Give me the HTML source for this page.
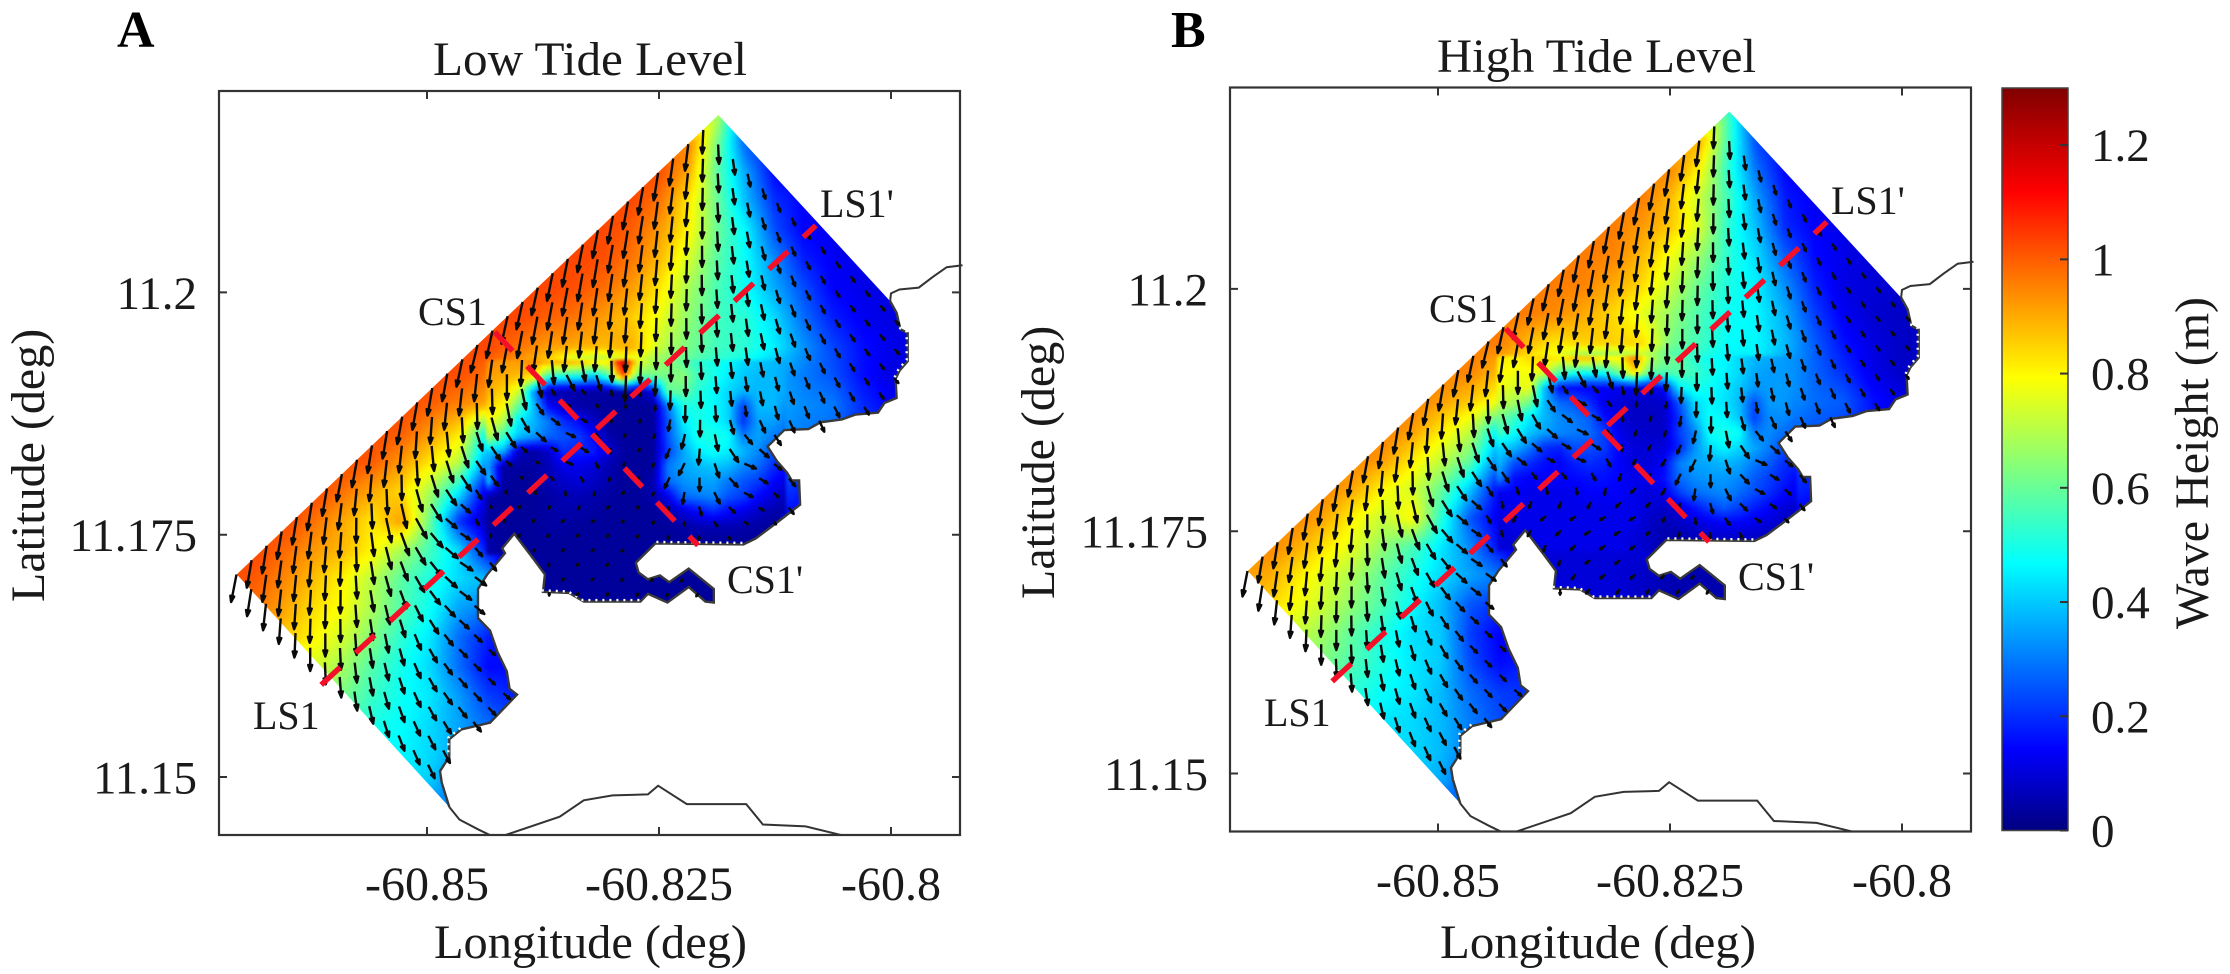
<!DOCTYPE html>
<html>
<head>
<meta charset="utf-8">
<title>Wave Height at Low and High Tide</title>
<style>
html,body{margin:0;padding:0;background:#fff}
svg{display:block}
text{font-family:"Liberation Serif",serif;fill:#1a1a1a}
</style>
</head>
<body>
<svg id="figure" xmlns="http://www.w3.org/2000/svg" width="2230" height="974" viewBox="0 0 2230 974">
<defs>
<linearGradient id="jet-gradient" x1="0" y1="1" x2="0" y2="0">
<stop offset="0" stop-color="#000080"/><stop offset="0.11" stop-color="#0000ff"/><stop offset="0.36" stop-color="#00ffff"/><stop offset="0.61" stop-color="#ffff00"/><stop offset="0.86" stop-color="#ff0000"/><stop offset="1" stop-color="#800000"/>
</linearGradient>
</defs>
<g id="panel-a"></g>
<g id="panel-b"></g>
<g id="colorbar"></g>

<text x="117" y="47" font-size="52" font-weight="bold" style="fill:#000">A</text>
<text x="1171" y="47" font-size="52" font-weight="bold" style="fill:#000">B</text>
<text x="433" y="75" font-size="48" textLength="314" lengthAdjust="spacingAndGlyphs">Low Tide Level</text>
<text x="1437" y="72" font-size="48" textLength="319" lengthAdjust="spacingAndGlyphs">High Tide Level</text>
<text x="434" y="958" font-size="48" textLength="313" lengthAdjust="spacingAndGlyphs">Longitude (deg)</text>
<text x="1440" y="958" font-size="48" textLength="316" lengthAdjust="spacingAndGlyphs">Longitude (deg)</text>
<text transform="translate(44,602) rotate(-90)" font-size="48">Latitude (deg)</text>
<text transform="translate(1054,599) rotate(-90)" font-size="48">Latitude (deg)</text>
<text transform="translate(2208,629) rotate(-90)" font-size="48">Wave Height (m)</text>

<text x="418" y="325" font-size="40">CS1</text>
<text x="253" y="729" font-size="40">LS1</text>
<text x="820" y="217" font-size="40">LS1'</text>
<text x="727" y="593" font-size="40">CS1'</text>
<text x="1429" y="322" font-size="40">CS1</text>
<text x="1264" y="726" font-size="40">LS1</text>
<text x="1831" y="214" font-size="40">LS1'</text>
<text x="1738" y="590" font-size="40">CS1'</text>
</svg>

<script>
// Axis tick values
const lonTicks = [-60.85, -60.825, -60.8];
const lonTickLabels = ['-60.85', '-60.825', '-60.8'];
const latTicks = [11.2, 11.175, 11.15];
const latTickLabels = ['11.2', '11.175', '11.15'];
const colorTicks = [0, 0.2, 0.4, 0.6, 0.8, 1, 1.2];
const colorTickLabels = ['0', '0.2', '0.4', '0.6', '0.8', '1', '1.2'];

// Model domain outline: milli-degrees east of -60.85 and north of 11.15
const domainLon = [-20.5,31.4,49.9,50.6,51.0,51.8,51.8,50.9,50.5,50.6,49.3,48.6,46.2,44.7,42.4,41.1,38.5,36.7,37.7,38.8,39.3,40.1,40.2,37.5,35.4,34.1,24.6,22.5,22.8,23.8,25.1,26.1,28.2,30.9,30.9,30.0,28.2,25.9,23.8,23.0,16.9,15.3,12.5,12.7,11.4,9.4,8.1,8.4,6.5,5.5,5.5,6.8,7.6,8.6,8.9,9.7,8.1,6.8,3.7,2.4,2.4,1.4,1.6,2.4];
const domainLat = [20.9,68.3,49.1,47.9,46.2,45.8,42.9,41.9,41.1,39.1,38.6,37.6,37.4,36.9,36.6,35.9,35.8,34.1,32.6,31.4,30.6,30.6,28.1,26.1,24.6,24.0,24.1,22.1,21.1,20.4,20.8,20.1,21.5,19.4,18.0,18.1,19.6,18.0,18.9,18.1,18.1,19.0,19.1,20.9,22.6,25.1,23.6,23.1,20.9,19.4,16.4,15.1,12.9,10.9,9.1,8.5,6.9,5.6,4.9,3.9,2.1,0.6,-0.6,-3.1];

// Land outlines outside the domain
const landEastLon = [49.9,50.0,50.9,53.0,54.5,56.0,57.7];
const landEastLat = [49.1,49.9,50.3,50.5,51.6,52.6,52.8];
const landSouthWestLon = [2.4,3.5,5.5,6.8];
const landSouthWestLat = [-3.1,-4.4,-5.4,-6.0];
const landSouthLon = [8.4,14.3,16.9,20.0,23.8,24.9,28.0,34.4,36.2,40.8,44.7];
const landSouthLat = [-6.0,-4.1,-2.4,-1.9,-1.8,-0.9,-2.8,-2.8,-4.9,-5.1,-6.0];

// Stretches of shoreline showing unwetted white cells (start and end index into the domain outline)
const dryShoreStart = [4, 25, 39, 58];
const dryShoreEnd = [8, 26, 42, 60];

// Transects
const transectLS1Lon = [-11.4, 41.9];
const transectLS1Lat = [9.5, 56.9];
const transectCS1Lon = [7.3, 29.2];
const transectCS1Lat = [45.9, 23.9];

// Wave height in centimetres, rows north to south, columns west to east
const heightLowCm = [
[0,0,0,0,0,0,0,0,0,0,0,0,0,0,103,103,100,70,25,14],
[0,0,0,0,0,0,0,0,0,0,0,0,0,0,103,102,96,62,25,14],
[0,0,0,0,0,0,0,0,0,0,0,0,0,103,103,102,90,58,35,14,13],
[0,0,0,0,0,0,0,0,0,0,0,0,103,103,103,97,82,60,38,20,14,13],
[0,0,0,0,0,0,0,0,0,0,0,103,103,103,100,92,80,60,46,24,14,13],
[0,0,0,0,0,0,0,0,0,0,103,103,103,102,97,88,74,58,47,32,18,13,12],
[0,0,0,0,0,0,0,0,0,103,103,103,102,98,92,82,68,56,48,36,24,14,12,11],
[0,0,0,0,0,0,0,0,103,103,103,100,97,92,86,77,65,55,52,42,28,18,13,11,11],
[0,0,0,0,0,0,0,103,103,103,98,92,90,88,90,72,62,55,52,45,33,23,16,12,11],
[0,0,0,0,0,0,103,103,102,97,88,80,50,45,60,58,55,50,45,36,30,25,16,11,10],
[0,0,0,0,0,103,103,100,95,90,65,10,8,8,8,20,45,45,25,36,32,30,20,14,12],
[0,0,0,0,103,103,100,92,82,45,35,25,12,5,5,25,40,42,25,34,30,28,20,20],
[0,0,0,103,103,100,92,82,70,30,5,5,15,8,5,10,35,35,30,28,25,20,15],
[0,0,103,103,97,90,84,68,45,8,5,5,5,5,5,15,25,30,30,22,18,15],
[0,103,103,97,90,82,92,60,20,5,3,3,3,3,3,5,10,15,15,15,12],
[103,103,98,92,88,80,68,55,42,15,3,3,3,3,3,5,5,8,10,8],
[103,100,94,87,80,70,58,50,42,38,10,3,3,3,3,3,3,3,3],
[97,97,90,83,78,68,57,48,35,30,5,4,3,3,3,3,3,3,3],
[0,92,86,80,73,63,52,44,28,18,14],
[0,0,80,74,67,57,49,42,28,15,15,15],
[0,0,0,70,62,54,48,44,34,22,18,15],
[0,0,0,0,58,50,47,42,35,28,22],
[0,0,0,0,0,48,46,42,35,28],
[0,0,0,0,0,0,45,40,28,25],
[0,0,0,0,0,0,0,35,25,20]
];
const heightHighCm = [
[0,0,0,0,0,0,0,0,0,0,0,0,0,0,96,96,92,55,18,12],
[0,0,0,0,0,0,0,0,0,0,0,0,0,0,96,96,90,55,22,13],
[0,0,0,0,0,0,0,0,0,0,0,0,0,96,96,95,80,52,28,14,12],
[0,0,0,0,0,0,0,0,0,0,0,0,96,96,96,88,72,55,34,17,13,12],
[0,0,0,0,0,0,0,0,0,0,0,96,96,96,92,86,74,52,38,19,14,12],
[0,0,0,0,0,0,0,0,0,0,96,96,96,95,88,78,66,52,42,26,15,12,10],
[0,0,0,0,0,0,0,0,0,96,96,96,95,90,84,72,60,50,45,32,18,11,10,9],
[0,0,0,0,0,0,0,0,96,96,96,94,90,84,76,66,56,48,46,36,22,13,9,8,8],
[0,0,0,0,0,0,0,96,96,96,88,82,85,85,84,62,55,47,46,38,26,16,11,8,7],
[0,0,0,0,0,0,96,96,95,88,78,70,40,40,55,50,48,44,44,35,27,20,12,8,7],
[0,0,0,0,0,96,96,92,86,78,60,20,18,14,10,22,40,42,42,34,28,26,16,12,10],
[0,0,0,0,96,96,92,82,72,45,32,28,20,14,8,22,35,38,22,28,25,22,18],
[0,0,0,96,96,92,82,72,60,30,20,20,14,12,10,12,32,32,28,25,22,18,14],
[0,0,95,95,90,80,74,60,40,14,12,12,12,12,12,16,24,28,28,20,17,14],
[0,95,95,90,80,72,80,52,25,12,12,12,12,12,10,10,12,15,15,14,12],
[95,95,90,82,75,65,56,44,32,15,10,10,10,10,10,8,8,8,8,8],
[92,90,82,75,68,58,50,42,35,30,12,10,10,10,8,6,5,5,5],
[88,85,78,72,64,56,47,38,25,20,10,10,10,10,8,5,5,5,5],
[0,80,72,66,58,50,43,40,22,14,14],
[0,0,68,62,56,50,44,40,24,15,18,18],
[0,0,0,58,52,47,44,38,28,22,20,18],
[0,0,0,0,48,44,42,38,30,24,20],
[0,0,0,0,0,44,42,38,30,24],
[0,0,0,0,0,0,42,36,25,20],
[0,0,0,0,0,0,0,28,22,18]
];

// Finer reading of the harbour basin (cm)
const harbourLowCm = [
[95,92,92,95,90,92,90,85,82,120,78,68,65,58,52,50,47,42,40,38,35],
[92,90,88,85,55,50,48,40,55,102,60,62,62,65,55,50,45,40,38,38,35],
[90,85,75,35,5,5,5,4,4,4,4,12,60,60,52,47,42,38,38,38,35],
[85,80,60,40,15,8,4,4,3,3,3,3,30,50,50,47,42,22,38,38,32],
[78,70,45,38,30,20,15,8,3,3,3,3,25,45,50,47,42,20,35,35,30],
[72,55,40,35,28,25,22,15,5,3,3,3,25,40,50,50,48,30,35,30,25],
[40,38,8,4,8,20,18,18,10,4,3,3,22,35,45,48,45,38,32,25,20],
[35,4,4,4,6,12,12,10,6,3,3,3,30,35,38,40,38,32,28,20,15],
[40,4,3,3,6,8,10,8,5,3,3,5,28,33,35,35,30,25,22,15,10],
[4,3,3,3,4,6,6,5,4,3,3,5,12,28,30,32,25,22,15,10,6],
[4,3,3,3,4,5,5,4,3,3,3,3,5,10,15,20,15,12,8,5,4],
[3,3,3,3,4,4,3,3,3,3,3,3,3,4,6,6,6,5,4,3,3],
[5,3,3,3,3,3,3,3,3,3,3,3,3,3,3,3,3,3,3,3,3],
[5,3,3,3,3,3,3,3,3,3,3,3,3,3,3,3,3,3,3,3,3]
];
const harbourHighCm = [
[82,80,84,85,82,88,88,82,80,96,72,62,60,52,48,46,42,38,36,34,32],
[80,78,78,75,58,50,48,48,62,84,60,58,58,55,50,46,42,36,34,34,32],
[78,74,78,40,15,15,14,14,12,12,10,15,45,50,48,44,40,34,34,34,32],
[72,68,62,38,28,25,20,12,10,8,8,8,25,42,46,44,38,24,34,34,30],
[62,55,45,38,32,30,26,16,10,8,8,8,20,38,48,46,40,22,32,32,28],
[55,48,40,35,32,30,28,22,12,9,8,8,22,30,48,50,48,30,32,28,25],
[42,38,30,20,18,24,24,22,14,10,10,10,18,32,42,46,42,36,30,24,22],
[38,25,20,16,14,18,20,18,14,10,10,14,30,35,36,38,36,30,26,20,18],
[32,16,14,14,14,15,16,16,14,12,12,16,28,32,34,34,32,26,22,18,14],
[12,14,12,12,12,12,14,14,14,12,10,12,22,28,30,32,28,24,20,15,12],
[12,12,12,12,12,12,12,12,12,12,10,8,10,16,22,26,22,18,14,10,8],
[10,12,12,12,12,12,12,12,12,12,8,6,8,10,12,14,14,12,10,8,6],
[10,10,12,12,12,12,12,12,12,10,8,5,5,6,8,8,8,8,7,6,5],
[10,10,12,12,12,12,12,12,12,10,8,5,5,6,8,8,8,8,7,6,5]
];

// Wave direction in degrees from due south (positive toward east), on a coarser grid
const directionDeg = [
[-12,-12,-12,-12,-12,-12,-12,-12,-8,12,30,40,40],
[-12,-12,-12,-12,-12,-12,-12,-12,-6,12,30,40,40],
[-12,-12,-12,-12,-12,-12,-12,-9,-3,10,28,40,40],
[-14,-14,-14,-14,-14,-14,-10,-6,-1,8,24,38,45],
[-15,-15,-15,-15,-15,-10,-6,-2,2,8,22,35,50],
[-12,-12,-12,-12,-4,15,70,-10,0,8,20,30,40],
[-12,-12,-12,-4,25,60,70,-40,-25,70,30,30,30],
[-10,-10,-5,20,60,-50,-60,-60,15,60,30,30,30],
[-12,-6,-1,22,55,50,-50,-50,-45,-45,0,0,0],
[-5,-3,2,15,45,50,0,0,0,0,0,0,0],
[0,3,6,20,40,50,0,0,0,0,0,0,0],
[5,10,15,22,30,40,0,0,0,0,0,0,0],
[10,15,20,25,28,30,0,0,0,0,0,0,0]
];

const SVGNS = 'http://www.w3.org/2000/svg';
const LON_ORIGIN = -60.85, LAT_ORIGIN = 11.15;
const PX_PER_MILLI_X = 9.28, PX_PER_MILLI_Y = 9.692;
const GRID_LON0 = -21.3, GRID_DLON = 3.094, GRID_LAT0 = 68.4, GRID_DLAT = 3.0;
const FINE_LON0 = 6.57, FINE_DLON = 1.616, FINE_LAT0 = 42.92, FINE_DLAT = 1.548;

function jet(t) {
  t = Math.max(0, Math.min(1, t));
  const r = t < 0.36 ? 0 : t < 0.61 ? (t - 0.36) / 0.25 : t < 0.86 ? 1 : 1 - (t - 0.86) / 0.14 * 0.5;
  const g = t < 0.11 ? 0 : t < 0.36 ? (t - 0.11) / 0.25 : t < 0.61 ? 1 : t < 0.86 ? 1 - (t - 0.61) / 0.25 : 0;
  const b = t < 0.11 ? 0.5 + t / 0.11 * 0.5 : t < 0.36 ? 1 : t < 0.61 ? 1 - (t - 0.36) / 0.25 : 0;
  return 'rgb(' + Math.round(r * 255) + ',' + Math.round(g * 255) + ',' + Math.round(b * 255) + ')';
}

function cellValue(grid, r, c) {
  return (grid[r] && grid[r][c]) || 0;
}
function bilinear(grid, rowF, colF) {
  const r = Math.floor(rowF), c = Math.floor(colF);
  const fr = rowF - r, fc = colF - c;
  return cellValue(grid, r, c) * (1 - fr) * (1 - fc) + cellValue(grid, r, c + 1) * (1 - fr) * fc +
         cellValue(grid, r + 1, c) * fr * (1 - fc) + cellValue(grid, r + 1, c + 1) * fr * fc;
}
function heightAt(grid, fine, lonM, latM) {
  const fineRow = (FINE_LAT0 - latM) / FINE_DLAT;
  const fineCol = (lonM - FINE_LON0) / FINE_DLON;
  if (fineRow >= 0 && fineRow < fine.length - 1 && fineCol >= 0 && fineCol < fine[0].length - 1) {
    return bilinear(fine, fineRow, fineCol) / 100;
  }
  return bilinear(grid, (GRID_LAT0 - latM) / GRID_DLAT, (lonM - GRID_LON0) / GRID_DLON) / 100;
}
function directionAt(lonM, latM) {
  return bilinear(directionDeg, (GRID_LAT0 - latM) / (2 * GRID_DLAT), (lonM - GRID_LON0) / (2 * GRID_DLON));
}
function inPolygon(px, py, poly) {
  let inside = false;
  for (let i = 0, j = poly.length - 1; i < poly.length; j = i++) {
    const xi = poly[i][0], yi = poly[i][1], xj = poly[j][0], yj = poly[j][1];
    if ((yi > py) !== (yj > py) && px < (xj - xi) * (py - yi) / (yj - yi) + xi) inside = !inside;
  }
  return inside;
}

function make(tag, parent) {
  const el = document.createElementNS(SVGNS, tag);
  parent.appendChild(el);
  return el;
}

function drawPanel(group, key, x0, y0, left, right, top, bottom, field, fine) {
  const xScale = m => x0 + PX_PER_MILLI_X * m;
  const yScale = m => y0 - PX_PER_MILLI_Y * m;
  const xDeg = d => xScale((d - LON_ORIGIN) * 1000);
  const yDeg = d => yScale((d - LAT_ORIGIN) * 1000);
  const xInv = p => (p - x0) / PX_PER_MILLI_X;
  const yInv = p => (y0 - p) / PX_PER_MILLI_Y;
  const pts = (lons, lats) => lons.map((m, i) => xScale(m).toFixed(1) + ',' + yScale(lats[i]).toFixed(1)).join(' ');

  const poly = domainLon.map((m, i) => [xScale(m), yScale(domainLat[i])]);

  const clip = make('clipPath', group);
  clip.setAttribute('id', 'domain-clip-' + key);
  const clipPoly = make('polygon', clip);
  clipPoly.setAttribute('points', pts(domainLon, domainLat));

  // Heat field
  const heatClip = make('g', group);
  
  
  heatClip.setAttribute('clip-path', 'url(#domain-clip-' + key + ')');
  const heat = make('g', heatClip);
  
  
  heat.setAttribute('shape-rendering', 'crispEdges');
  heat.setAttribute('style', 'filter:blur(1.5px)');
  const xs = poly.map(p => p[0]), ys = poly.map(p => p[1]);
  const step = 5;
  const minX = Math.floor(Math.min(...xs)) - step, maxX = Math.ceil(Math.max(...xs)) + step;
  const minY = Math.floor(Math.min(...ys)) - step, maxY = Math.ceil(Math.max(...ys)) + step;
  for (let py = minY; py < maxY; py += step) {
    for (let px = minX; px < maxX; px += step) {
      let hit = false;
      for (let ox = -step; ox <= 2 * step && !hit; ox += step) {
        for (let oy = -step; oy <= 2 * step && !hit; oy += step) {
          if (inPolygon(px + ox, py + oy, poly)) hit = true;
        }
      }
      if (!hit) continue;
      let lonM = xInv(px + 2.5), latM = yInv(py + 2.5);
      let h = heightAt(field, fine, lonM, latM);
      if (!inPolygon(px + 2.5, py + 2.5, poly)) {
        // cell hugging the outline: read the nearest wet neighbour instead of the empty land value
        let best = h;
        for (let ox = -step; ox <= step; ox += step) {
          for (let oy = -step; oy <= step; oy += step) {
            if (inPolygon(px + 2.5 + ox, py + 2.5 + oy, poly)) {
              best = heightAt(field, fine, xInv(px + 2.5 + ox), yInv(py + 2.5 + oy));
            }
          }
        }
        h = best;
      }
      const cell = make('rect', heat);
      
      
      cell.setAttribute('x', px);
      cell.setAttribute('y', py);
      cell.setAttribute('width', step);
      cell.setAttribute('height', step);
      cell.setAttribute('fill', jet(h / 1.3));
    }
  }

  // Coast and land
  const coast = make('polyline', group);
  
  
  coast.setAttribute('points', pts(domainLon.slice(2), domainLat.slice(2)));
  coast.setAttribute('fill', 'none');
  coast.setAttribute('stroke', '#3a3a3a');
  coast.setAttribute('stroke-width', '2.4');

  dryShoreStart.forEach((s, k) => {
    const e = dryShoreEnd[k] + 1;
    const dry = make('polyline', group);
    
    
    dry.setAttribute('points', pts(domainLon.slice(s, e), domainLat.slice(s, e)));
    dry.setAttribute('fill', 'none');
    dry.setAttribute('stroke', '#fff');
    dry.setAttribute('stroke-width', '2.4');
    dry.setAttribute('stroke-dasharray', '2 5');
    dry.setAttribute('transform', 'translate(-1,-1.5)');
  });

  const landEast = make('polyline', group);
  
  
  landEast.setAttribute('points', pts(landEastLon, landEastLat));
  landEast.setAttribute('fill', 'none');
  landEast.setAttribute('stroke', '#333');
  landEast.setAttribute('stroke-width', '2');

  const landSW = make('polyline', group);
  
  
  landSW.setAttribute('points', pts(landSouthWestLon, landSouthWestLat));
  landSW.setAttribute('fill', 'none');
  landSW.setAttribute('stroke', '#333');
  landSW.setAttribute('stroke-width', '2');

  const landS = make('polyline', group);
  
  
  landS.setAttribute('points', pts(landSouthLon, landSouthLat));
  landS.setAttribute('fill', 'none');
  landS.setAttribute('stroke', '#333');
  landS.setAttribute('stroke-width', '2');

  // Quiver arrows on the rotated model grid
  const arrows = make('g', group);
  
  
  for (let i = 0; i <= 32; i++) {
    for (let j = 0; j <= 50; j++) {
      const lonM = -20.525 + i * 1.6226 + j * 1.588;
      const latM = 20.89 + i * 1.480 - j * 1.510;
      const tx = xScale(lonM), ty = yScale(latM);
      if (!inPolygon(tx + 1.5, ty, poly)) continue;
      const h = Math.max(0.005, heightAt(field, fine, lonM, latM));
      const len = 1.5 + 26 * Math.pow(h, 0.75);
      const a = directionAt(lonM, latM) * Math.PI / 180;
      const ux = Math.sin(a), uy = Math.cos(a);
      const ex = tx + ux * len, ey = ty + uy * len;
      const head = Math.max(1.5, Math.min(6, 0.3 * len));
      const hw = Math.min(2, head * 0.4);
      const bx = ex - ux * head, by = ey - uy * head;
      const d = 'M' + tx.toFixed(1) + ' ' + ty.toFixed(1) + 'L' + bx.toFixed(1) + ' ' + by.toFixed(1) +
        'M' + (bx - uy * hw).toFixed(1) + ' ' + (by + ux * hw).toFixed(1) + 'L' + ex.toFixed(1) + ' ' + ey.toFixed(1) +
        'L' + (bx + uy * hw).toFixed(1) + ' ' + (by - ux * hw).toFixed(1) + 'Z';
      const arrow = make('path', arrows);
      
      
      arrow.setAttribute('d', d);
      arrow.setAttribute('fill', '#000');
      arrow.setAttribute('stroke', '#0a0a0a');
      arrow.setAttribute('stroke-width', '2.4');
      arrow.setAttribute('stroke-linejoin', 'round');
    }
  }

  // Transects
  const ls1 = make('polyline', group);
  
  
  ls1.setAttribute('points', pts(transectLS1Lon, transectLS1Lat));
  ls1.setAttribute('fill', 'none');
  ls1.setAttribute('stroke', '#f5102a');
  ls1.setAttribute('stroke-width', '5.5');
  ls1.setAttribute('stroke-dasharray', '26 21');

  const cs1 = make('polyline', group);
  
  
  cs1.setAttribute('points', pts(transectCS1Lon, transectCS1Lat));
  cs1.setAttribute('fill', 'none');
  cs1.setAttribute('stroke', '#f5102a');
  cs1.setAttribute('stroke-width', '5.5');
  cs1.setAttribute('stroke-dasharray', '26 21');

  // Frame
  const frame = make('rect', group);
  
  
  frame.setAttribute('x', left);
  frame.setAttribute('y', top);
  frame.setAttribute('width', right - left);
  frame.setAttribute('height', bottom - top);
  frame.setAttribute('fill', 'none');
  frame.setAttribute('stroke', '#333');
  frame.setAttribute('stroke-width', '2.2');

  // Ticks
  lonTicks.forEach((v, i) => {
    const x = xDeg(v);
    const tick = make('path', group);
    
    
    tick.setAttribute('d', 'M' + x + ' ' + top + 'v8M' + x + ' ' + bottom + 'v-8');
    tick.setAttribute('stroke', '#333');
    tick.setAttribute('stroke-width', '2');
    const label = make('text', group);
    
    
    label.setAttribute('x', x);
    label.setAttribute('y', bottom + 65);
    label.setAttribute('text-anchor', 'middle');
    label.setAttribute('font-size', '48');
    label.textContent = lonTickLabels[i];
  });
  latTicks.forEach((v, i) => {
    const y = yDeg(v);
    const tick = make('path', group);
    
    
    tick.setAttribute('d', 'M' + left + ' ' + y + 'h8M' + right + ' ' + y + 'h-8');
    tick.setAttribute('stroke', '#333');
    tick.setAttribute('stroke-width', '2');
    const label = make('text', group);
    
    
    label.setAttribute('x', left - 22);
    label.setAttribute('y', y + 16.5);
    label.setAttribute('text-anchor', 'end');
    label.setAttribute('font-size', '47');
    label.textContent = latTickLabels[i];
  });
}

drawPanel(document.getElementById('panel-a'), 'a', 427, 777, 219, 960, 91, 835, heightLowCm, harbourLowCm);
drawPanel(document.getElementById('panel-b'), 'b', 1438, 773.5, 1230, 1971, 87.5, 831.5, heightHighCm, harbourHighCm);

// Colour bar
(function () {
  const g = document.getElementById('colorbar');
  const left = 2002, right = 2068, top = 88, bottom = 830.5, maxV = 1.3;
  const yScale = v => bottom - (bottom - top) * v / maxV;
  const bar = make('rect', g);
  
  
  bar.setAttribute('x', left);
  bar.setAttribute('y', top);
  bar.setAttribute('width', right - left);
  bar.setAttribute('height', bottom - top);
  bar.setAttribute('fill', 'url(#jet-gradient)');
  bar.setAttribute('stroke', '#444');
  bar.setAttribute('stroke-width', '1.5');
  colorTicks.forEach((v, i) => {
    const y = yScale(v);
    const tick = make('path', g);
    
    
    tick.setAttribute('d', 'M' + right + ' ' + y + 'h-8');
    tick.setAttribute('stroke', '#333');
    tick.setAttribute('stroke-width', '2');
    const label = make('text', g);
    
    
    label.setAttribute('x', 2091);
    label.setAttribute('y', y + 16);
    label.setAttribute('font-size', '47');
    label.textContent = colorTickLabels[i];
  });
})();
</script>
</body>
</html>
